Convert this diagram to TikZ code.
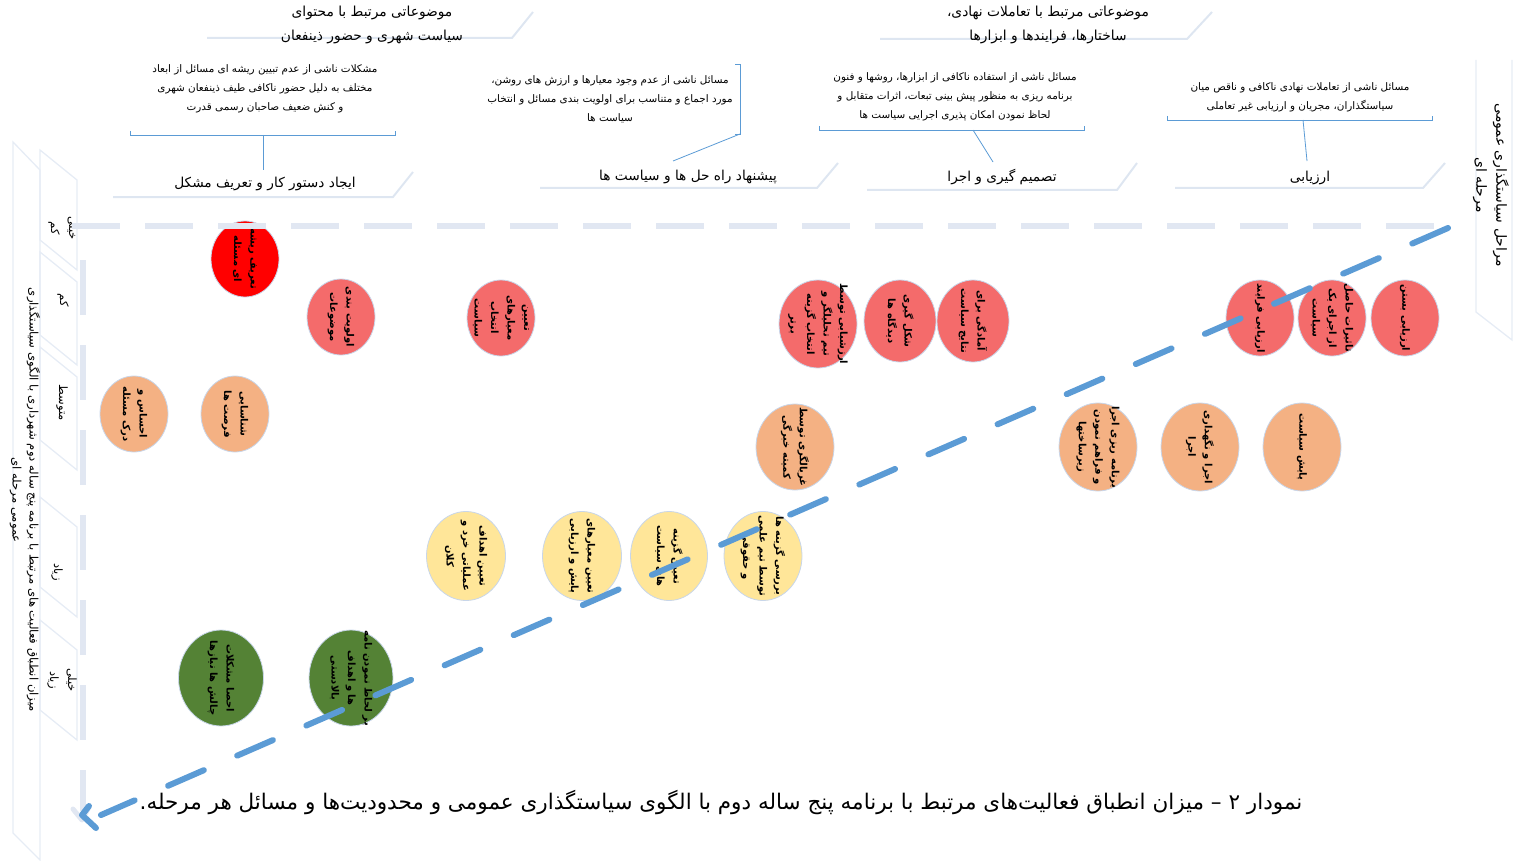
\documentclass[tikz,border=0pt]{standalone}
\usepackage{fontspec}
\newfontfamily\arabicfont[Script=Arabic]{DejaVu Sans}
\TeXXeTstate=1
\usetikzlibrary{shapes.geometric,arrows.meta}
\newcommand{\R}[1]{\beginR #1\endR}
\definecolor{bred}{HTML}{FF0000}
\definecolor{salmon}{HTML}{F46B6B}
\definecolor{peach}{HTML}{F4B183}
\definecolor{lyellow}{HTML}{FFE699}
\definecolor{dgreen}{HTML}{548235}
\definecolor{lblue}{HTML}{5B9BD5}
\definecolor{faintc}{HTML}{DEE6F1}
\definecolor{fainter}{HTML}{E6ECF5}
\definecolor{axisc}{HTML}{E1E7F2}
\definecolor{rimc}{HTML}{C8D6EA}
\tikzset{
  bubble/.style={ellipse,draw=rimc,line width=0.8pt,inner sep=0pt},
  bubtext/.style={rotate=-90,align=center,inner sep=0pt,font=\arabicfont\bfseries\fontsize{10}{16.5}\selectfont},
  headtext/.style={align=center,inner sep=0pt,font=\arabicfont\fontsize{13.8}{24}\selectfont},
  stagetext/.style={align=center,inner sep=0pt,font=\arabicfont\fontsize{13.7}{18}\selectfont},
  desctext/.style={align=center,inner sep=0pt,font=\arabicfont\fontsize{10.4}{19}\selectfont},
  rowlab/.style={rotate=-90,align=center,inner sep=0pt,font=\arabicfont\fontsize{11.5}{18}\selectfont},
  sidelab/.style={rotate=-90,align=center,inner sep=0pt,font=\arabicfont\fontsize{14}{20}\selectfont},
  faint/.style={draw=faintc,line width=2pt},
  thinfaint/.style={draw=fainter,line width=1.3pt},
  bracket/.style={draw=lblue,line width=0.8pt},
  axisdash/.style={draw=axisc,line width=6pt},
  bluedash/.style={draw=lblue,line width=6pt,line cap=round,dash pattern=on 39pt off 36.4pt},
  bluetip/.style={draw=lblue,line width=6pt,line cap=round,line join=round},
  axistip/.style={draw=axisc,line width=5pt,line cap=round,line join=round},
}
\newcommand{\bub}[6]{\node[bubble,fill=#5,minimum width=#3,minimum height=#4] (#1) at (#2) {};
  \node[bubtext] (#1t) at (#1) {#6};}
\newcommand{\rowshape}[2]{\draw[thinfaint] (40,#1) -- (77,#1+30) -- (77,#2+30) -- (40,#2) -- cycle;}
\begin{document}
\begin{tikzpicture}[x=1pt,y=-1pt]
\useasboundingbox (0,0) rectangle (1522,861);
% faint decorative shapes
\draw[faint] (207,38) -- (512,38) -- (533,12);
\draw[faint] (880,39) -- (1187,39) -- (1212,12);
\draw[faint] (113,197) -- (393,197) -- (413,172);
\draw[faint] (540,188) -- (817,188) -- (838,163);
\draw[faint] (867,190) -- (1117,190) -- (1137,163);
\draw[faint] (1175,188) -- (1423,188) -- (1445,163);
\draw[thinfaint] (1476,60) -- (1476,312) -- (1512,340) -- (1512,60);
\draw[thinfaint] (13,142) -- (40,170) -- (40,860) -- (13,833) -- cycle;
\rowshape{150}{240}
\rowshape{252}{335}
\rowshape{347}{440}
\rowshape{497}{587}
\rowshape{620}{710}
% headers
\node[headtext] (h1) at (372,25) {\R{موضوعاتی مرتبط با محتوای}\\\R{سیاست شهری  و حضور ذینفعان}};
\node[headtext] (h2) at (1048,25) {\R{موضوعاتی مرتبط با تعاملات نهادی،}\\\R{ساختارها، فرایندها و ابزارها}};
% descriptions
\node[desctext] (d1) at (265,89) {\R{مشکلات ناشی از عدم تبیین ریشه ای مسائل از ابعاد}\\\R{مختلف به دلیل حضور ناکافی طیف ذینفعان شهری}\\\R{و کنش ضعیف صاحبان رسمی قدرت}};
\node[desctext] (d2) at (610,99) {\R{مسائل ناشی از  عدم وجود معیارها و ارزش های روشن،}\\\R{مورد اجماع و متناسب برای اولویت بندی مسائل و انتخاب}\\\R{سیاست ها}};
\node[desctext] (d3) at (955,97) {\R{مسائل ناشی از  استفاده ناکافی از ابزارها، روشها و فنون}\\\R{برنامه ریزی به منظور پیش بینی تبعات، اثرات متقابل و}\\\R{لحاظ نمودن امکان پذیری اجرایی سیاست ها}};
\node[desctext] (d4) at (1300,97) {\R{مسائل ناشی از  تعاملات نهادی ناکافی و ناقص میان}\\\R{سیاستگذاران، مجریان و ارزیابی غیر تعاملی}};
% stages
\node[stagetext] (s1) at (265,184) {\R{ایجاد دستور کار و تعریف مشکل}};
\node[stagetext] (s2) at (688,177) {\R{پیشنهاد راه حل ها و سیاست ها}};
\node[stagetext] (s3) at (1002,177) {\R{تصمیم گیری و اجرا}};
\node[stagetext] (s4) at (1310,178) {\R{ارزیابی}};
% brackets
\coordinate (b1) at (263,135); \coordinate (b1e) at (263,170);
\draw[bracket] (130,131) -- (130,135) -- (395,135) -- (395,131);
\draw[bracket] (b1) -- (b1e);
\coordinate (b2) at (740,134); \coordinate (b2e) at (673,161);
\draw[bracket] (735,64) -- (740,64) -- (740,134) -- (735,134);
\draw[bracket] (b2) -- (b2e);
\coordinate (b3) at (973,130); \coordinate (b3e) at (993,162);
\draw[bracket] (819,126) -- (819,130) -- (1084,130) -- (1084,126);
\draw[bracket] (b3) -- (b3e);
\coordinate (b4) at (1303,120); \coordinate (b4e) at (1307,161);
\draw[bracket] (1167,116) -- (1167,120) -- (1432,120) -- (1432,116);
\draw[bracket] (b4) -- (b4e);
% side labels
\node[sidelab] (rl) at (1491,185) {\R{مراحل سیاستگذاری عمومی}\\\R{مرحله ای}};
\node[sidelab,font=\arabicfont\fontsize{11.7}{17}\selectfont] (ll) at (25,500) {\R{میزان انطباق فعالیت های مرتبط با برنامه پنج ساله دوم شهرداری با الگوی سیاستگذاری}\\\R{عمومی مرحله ای}};
% row labels
\node[rowlab] (l1) at (63,228) {\R{خیلی}\\\R{کم}};
\node[rowlab] (l2) at (63,300) {\R{کم}};
\node[rowlab] (l3) at (62,403) {\R{متوسط}};
\node[rowlab] (l4) at (57,572) {\R{زیاد}};
\node[rowlab] (l5) at (62,680) {\R{خیلی}\\\R{زیاد}};
% bubbles
\bub{r0}{245,259}{68pt}{76pt}{bred}{\R{تعریف ریشه}\\\R{ای مسئله}}
\bub{r1}{341,317}{68pt}{76pt}{salmon}{\R{اولویت بندی}\\\R{موضوعات}}
\bub{r2}{501,318}{68pt}{76pt}{salmon}{\R{تعیین}\\\R{معیارهای}\\\R{انتخاب}\\\R{سیاست}}
\bub{r3}{818,324}{78pt}{88pt}{salmon}{\R{ارزشیابی توسط}\\\R{تیم تحلیلگر و}\\\R{انتخاب گزینه}\\\R{برتر}}
\bub{r4}{900,321}{72pt}{82pt}{salmon}{\R{شکل گیری}\\\R{دیدگاه ها}}
\bub{r5}{973,321}{72pt}{82pt}{salmon}{\R{آمادگی برای}\\\R{نتایج سیاست}}
\bub{r6}{1260,318}{68pt}{76pt}{salmon}{\R{ارزیابی فرایند}}
\bub{r7}{1332,318}{68pt}{76pt}{salmon}{\R{تاثیرات حاصل}\\\R{از اجرای یک}\\\R{سیاست}}
\bub{r8}{1405,318}{68pt}{76pt}{salmon}{\R{ارزیابی بستن}}
\bub{o1}{134,414}{68pt}{76pt}{peach}{\R{احساس و}\\\R{درک مسئله}}
\bub{o2}{235,414}{68pt}{76pt}{peach}{\R{شناسایی}\\\R{فرصت ها}}
\bub{o3}{795,447}{78pt}{86pt}{peach}{\R{غربالگری توسط}\\\R{کمیته خبرگی}}
\bub{o4}{1098,447}{78pt}{88pt}{peach}{\R{برنامه ریزی اجرا}\\\R{و فراهم نمودن}\\\R{زیرساختها}}
\bub{o5}{1200,447}{78pt}{88pt}{peach}{\R{اجرا و نگهداری}\\\R{اجرا}}
\bub{o6}{1302,447}{78pt}{88pt}{peach}{\R{پایش سیاست}}
\bub{y1}{466,556}{79pt}{89pt}{lyellow}{\R{تعیین اهداف}\\\R{عملیاتی خرد و}\\\R{کلان}}
\bub{y2}{582,556}{79pt}{89pt}{lyellow}{\R{تعیین معیارهای}\\\R{پایش و ارزیابی}}
\bub{y3}{669,556}{77pt}{89pt}{lyellow}{\R{تعیین گزینه}\\\R{های سیاست}}
\bub{y4}{763,556}{78pt}{89pt}{lyellow}{\R{بررسی گزینه ها}\\\R{توسط تیم علمی}\\\R{و حقوقی}}
\bub{g1}{221,678}{85pt}{96pt}{dgreen}{\R{احصا مشکلات}\\\R{چالش ها نیازها}}
\bub{g2}{351,678}{84pt}{96pt}{dgreen}{\R{بر لحاظ نمودن نامه}\\\R{ها و اهداف}\\\R{بالادستی}}
% gray axes
\coordinate (ax0) at (72,226); \coordinate (axr) at (1450,226);
\coordinate (ax1) at (83,260); \coordinate (axb) at (83,811); \coordinate (axt) at (82,820);
\draw[axisdash,dash pattern=on 48pt off 25pt] (ax0) -- (axr);
\draw[axisdash,dash pattern=on 55pt off 30pt] (ax1) -- (axb);
\draw[axistip] (73,809) -- (axt) -- (88,809);
% blue diagonal
\coordinate (bs) at (1448,228); \coordinate (be) at (101,815); \coordinate (bt) at (82,815);
\draw[bluedash] (bs) -- (be);
\draw[bluetip] (89,806) -- (bt) -- (96,828);
% caption
\node[inner sep=0pt,font=\arabicfont\fontsize{21.5}{24}\selectfont] (cap) at (721,802) {\R{نمودار ۲ – میزان انطباق فعالیت‌های مرتبط با برنامه پنج ساله دوم با الگوی سیاستگذاری عمومی و محدودیت‌ها و مسائل هر مرحله.}};
\end{tikzpicture}
\end{document}
